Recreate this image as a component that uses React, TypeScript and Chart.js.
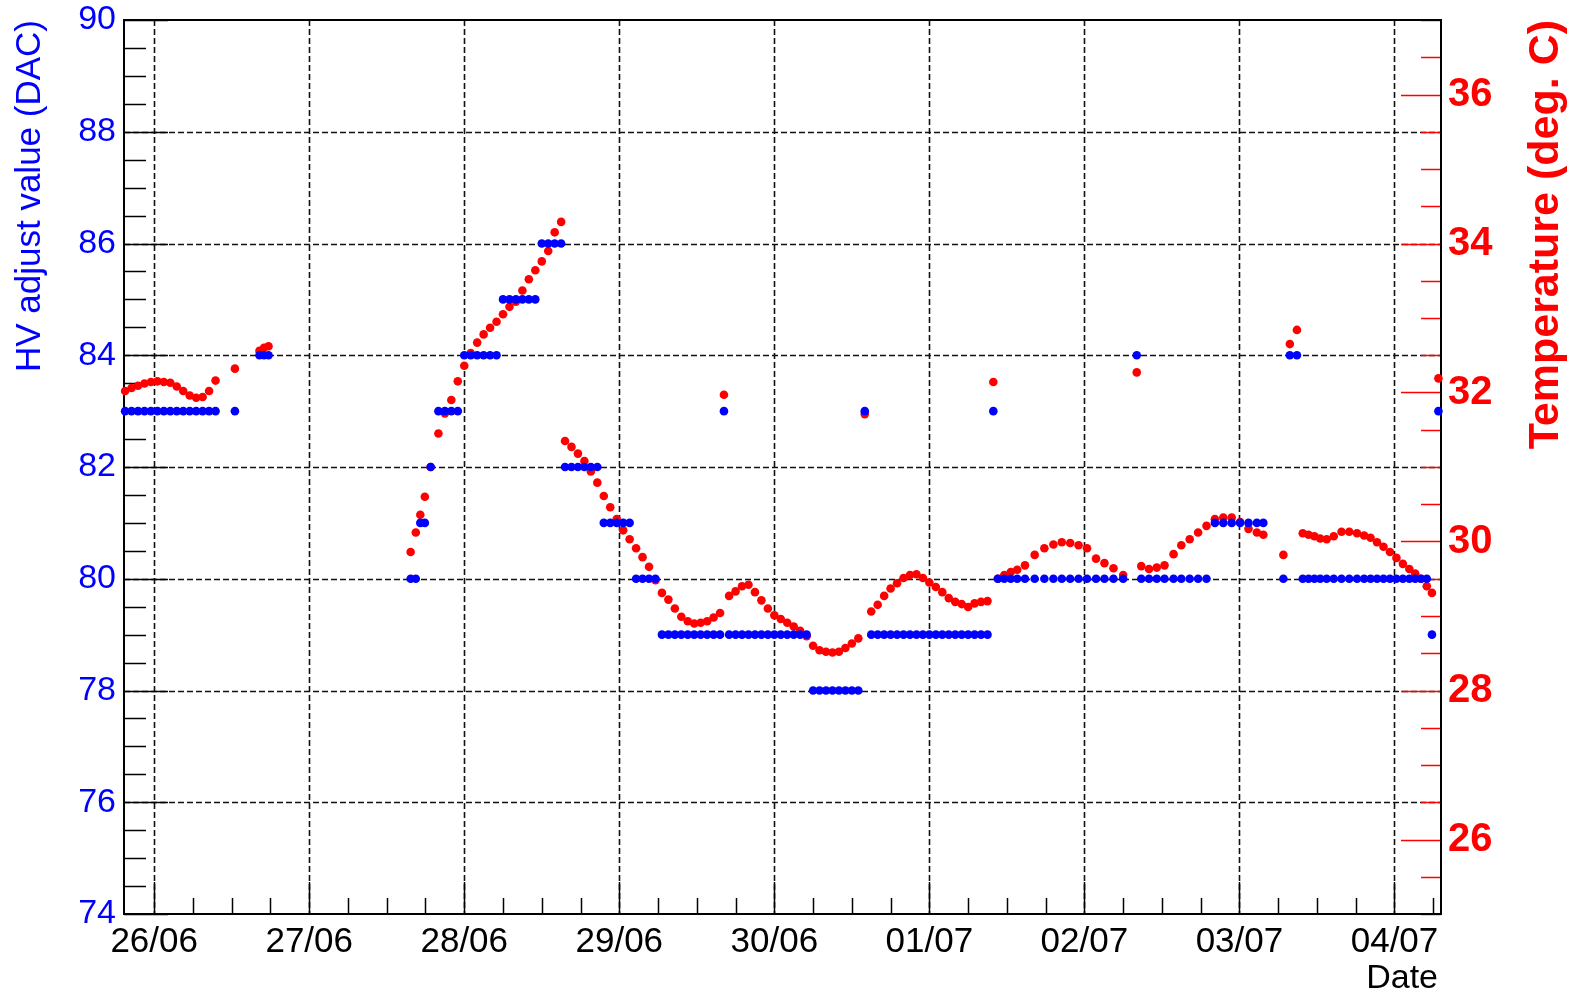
import React, { useEffect, useRef } from "react";
import { Chart, registerables } from "chart.js";

Chart.register(...registerables);

// Reading times, in hours from 26/06 00:00
const READ_HOURS = [
  -4.5, -3.5, -2.5, -1.5, -0.5, 0.5, 1.5, 2.5, 3.5, 4.5, 5.5, 6.5, 7.5, 8.5, 9.5,
  12.5, 16.3, 17.0, 17.7,
  39.7, 40.5, 41.2, 41.9, 42.8, 44, 45, 46, 47, 48, 49, 50, 51, 52, 53, 54, 55, 56, 57, 58, 59, 60, 61, 62, 63,
  63.6, 64.6, 65.6, 66.6, 67.6, 68.6, 69.6, 70.6, 71.6, 72.6, 73.6, 74.6, 75.6, 76.6, 77.6, 78.6, 79.6, 80.6, 81.6, 82.6, 83.6, 84.6, 85.6, 86.6, 87.6,
  88.2,
  89, 90, 91, 92, 93, 94, 95, 96, 97, 98, 99, 100, 101, 102, 103, 104, 105, 106, 107, 108, 109, 110,
  111, 112, 113, 114, 115, 116, 117, 118, 119, 120, 121, 122, 123, 124, 125, 126, 127, 128, 129,
  129.9,
  130.6, 131.6, 132.6, 133.6, 134.8, 136.3, 137.8, 139.2, 140.5, 141.8, 143.1, 144.4, 145.8, 147.1, 148.5, 150.0,
  152.1,
  152.8, 154.0, 155.2, 156.4, 157.8, 159.0, 160.3, 161.6, 162.9, 164.2, 165.5, 166.8, 168.1, 169.4, 170.7, 171.7,
  174.8, 175.8, 176.9,
  177.8, 178.7, 179.6, 180.5, 181.5, 182.6, 183.8, 185.0, 186.2, 187.3, 188.3, 189.3, 190.3, 191.3, 192.3, 193.3, 194.3, 195.2, 196.1, 197.0, 197.8,
  198.8,
];

// HV adjust value (DAC) at each reading
const HV_DAC = [
  83, 83, 83, 83, 83, 83, 83, 83, 83, 83, 83, 83, 83, 83, 83,
  83, 84, 84, 84,
  80, 80, 81, 81, 82, 83, 83, 83, 83, 84, 84, 84, 84, 84, 84, 85, 85, 85, 85, 85, 85, 86, 86, 86, 86,
  82, 82, 82, 82, 82, 82, 81, 81, 81, 81, 81, 80, 80, 80, 80, 79, 79, 79, 79, 79, 79, 79, 79, 79, 79,
  83,
  79, 79, 79, 79, 79, 79, 79, 79, 79, 79, 79, 79, 79, 78, 78, 78, 78, 78, 78, 78, 78, 83,
  79, 79, 79, 79, 79, 79, 79, 79, 79, 79, 79, 79, 79, 79, 79, 79, 79, 79, 79,
  83,
  80, 80, 80, 80, 80, 80, 80, 80, 80, 80, 80, 80, 80, 80, 80, 80,
  84,
  80, 80, 80, 80, 80, 80, 80, 80, 80, 81, 81, 81, 81, 81, 81, 81,
  80, 84, 84,
  80, 80, 80, 80, 80, 80, 80, 80, 80, 80, 80, 80, 80, 80, 80, 80, 80, 80, 80, 80, 79,
  83,
];

// Temperature (deg. C) at each reading
const TEMP_C = [
  32.02, 32.06, 32.09, 32.12, 32.14, 32.15, 32.14, 32.13, 32.08, 32.02, 31.96, 31.93, 31.94, 32.02, 32.16,
  32.32, 32.56, 32.6, 32.62,
  29.86, 30.12, 30.36, 30.6, 31.0, 31.45, 31.72, 31.9, 32.15, 32.36, 32.53, 32.67, 32.78, 32.87, 32.95, 33.05, 33.15, 33.22, 33.37, 33.52, 33.64, 33.76, 33.9, 34.15, 34.29,
  31.35, 31.27, 31.18, 31.08, 30.94, 30.79, 30.61, 30.46, 30.3, 30.15, 30.03, 29.91, 29.79, 29.66, 29.48, 29.31, 29.22, 29.1, 28.99, 28.93, 28.9, 28.91, 28.93, 28.98, 29.04,
  31.97,
  29.27, 29.33, 29.4, 29.42, 29.32, 29.21, 29.1, 29.01, 28.96, 28.91, 28.86, 28.8, 28.73, 28.6, 28.54, 28.52, 28.51, 28.52, 28.57, 28.63, 28.7, 31.71,
  29.06, 29.15, 29.27, 29.37, 29.44, 29.51, 29.55, 29.56, 29.51, 29.45, 29.39, 29.32, 29.24, 29.19, 29.16, 29.12, 29.17, 29.19, 29.2,
  32.14,
  29.5, 29.55, 29.59, 29.62, 29.68, 29.82, 29.91, 29.96, 29.99, 29.98, 29.95, 29.91, 29.77, 29.71, 29.64, 29.55,
  32.27,
  29.67, 29.63, 29.65, 29.68, 29.83, 29.95, 30.03, 30.12, 30.21, 30.3, 30.32, 30.32, 30.26, 30.17, 30.12, 30.09,
  29.82, 32.65, 32.84,
  30.11, 30.09, 30.07, 30.04, 30.03, 30.07, 30.13, 30.13, 30.11, 30.08, 30.05, 29.99, 29.93, 29.86, 29.78, 29.7, 29.63, 29.57, 29.5, 29.4, 29.31,
  32.19,
];

const DATE_LABELS = ["26/06", "27/06", "28/06", "29/06", "30/06", "01/07", "02/07", "03/07", "04/07"];
const DAY_TICK_HOURS = [0, 24, 48, 72, 96, 120, 144, 168, 192];
const HV_TICKS = [74, 76, 78, 80, 82, 84, 86, 88, 90];
const TEMP_TICKS = [26, 28, 30, 32, 34, 36];

const X_MIN = -4.67;
const X_MAX = 199.2;
const HV_MIN = 74;
const HV_MAX = 90;
const T_MIN = 25;
const T_MAX = 37;

const FONT = "'Liberation Sans', Arial, Helvetica, sans-serif";
const BLUE = "#0000ff";
const RED = "#ff0000";

const rootStylePlugin = {
  id: "rootStyle",
  beforeDatasetsDraw(chart: any) {
    const { ctx, chartArea: a, scales } = chart;
    const xs = scales.x;
    const ys = scales.y;
    const ys2 = scales.y2;
    const seg = (x1: number, y1: number, x2: number, y2: number) => {
      ctx.beginPath();
      ctx.moveTo(x1, y1);
      ctx.lineTo(x2, y2);
      ctx.stroke();
    };
    ctx.save();
    // grid
    ctx.strokeStyle = "#111";
    ctx.lineWidth = 1.6;
    ctx.setLineDash([6, 3]);
    for (const h of DAY_TICK_HOURS) {
      const px = Math.round(xs.getPixelForValue(h)) + 0.5;
      seg(px, a.top, px, a.bottom);
    }
    for (const v of HV_TICKS) {
      if (v <= HV_MIN || v >= HV_MAX) continue;
      const py = Math.round(ys.getPixelForValue(v)) + 0.5;
      seg(a.left, py, a.right, py);
    }
    ctx.setLineDash([]);
    // tick marks (inside the frame, ROOT style)
    ctx.lineWidth = 1.5;
    ctx.strokeStyle = "#000";
    for (let h = Math.ceil(X_MIN / 6) * 6; h <= X_MAX; h += 6) {
      const len = h % 24 === 0 ? 32 : 16;
      const px = Math.round(xs.getPixelForValue(h)) + 0.5;
      seg(px, a.bottom, px, a.bottom - len);
    }
    for (let v = HV_MIN; v <= HV_MAX + 1e-9; v += 0.5) {
      const len = v % 2 === 0 ? 44 : 22;
      const py = Math.round(ys.getPixelForValue(v)) + 0.5;
      seg(a.left, py, a.left + len, py);
    }
    ctx.strokeStyle = RED;
    for (let v = T_MIN; v <= T_MAX + 1e-9; v += 0.5) {
      const len = v % 2 === 0 ? 40 : 20;
      const py = Math.round(ys2.getPixelForValue(v)) + 0.5;
      seg(a.right, py, a.right - len, py);
    }
    // frame
    ctx.strokeStyle = "#000";
    ctx.lineWidth = 2;
    ctx.strokeRect(a.left, a.top, a.right - a.left, a.bottom - a.top);
    ctx.restore();
  },
  afterDraw(chart: any) {
    const { ctx, chartArea: a } = chart;
    ctx.save();
    ctx.fillStyle = BLUE;
    ctx.font = `35px ${FONT}`;
    ctx.textAlign = "right";
    ctx.textBaseline = "middle";
    ctx.translate(30, 20);
    ctx.rotate(-Math.PI / 2);
    ctx.fillText("HV adjust value (DAC)", 0, 0);
    ctx.restore();

    ctx.save();
    ctx.fillStyle = RED;
    ctx.font = `bold 43px ${FONT}`;
    ctx.textAlign = "right";
    ctx.textBaseline = "middle";
    ctx.translate(1546, 20);
    ctx.rotate(-Math.PI / 2);
    ctx.fillText("Temperature (deg. C)", 0, 0);
    ctx.restore();

    ctx.save();
    ctx.fillStyle = "#000";
    ctx.font = `34px ${FONT}`;
    ctx.textAlign = "right";
    ctx.textBaseline = "alphabetic";
    ctx.fillText("Date", a.right - 3, 988);
    ctx.restore();
  },
};

const noVerticalOverflow = (scale: any) => {
  scale.paddingTop = 0;
  scale.paddingBottom = 0;
};

export default function App() {
  const canvasRef = useRef<HTMLCanvasElement | null>(null);

  useEffect(() => {
    const canvas = canvasRef.current;
    if (!canvas) return;
    const hvPoints = READ_HOURS.map((h, i) => ({ x: h, y: HV_DAC[i] }));
    const tempPoints = READ_HOURS.map((h, i) => ({ x: h, y: TEMP_C[i] }));

    const chart = new Chart(canvas, {
      type: "scatter",
      data: {
        datasets: [
          {
            label: "HV adjust value (DAC)",
            data: hvPoints,
            yAxisID: "y",
            backgroundColor: BLUE,
            borderWidth: 0,
            pointRadius: 4.3,
            clip: false,
          },
          {
            label: "Temperature (deg. C)",
            data: tempPoints,
            yAxisID: "y2",
            backgroundColor: RED,
            borderWidth: 0,
            pointRadius: 4.3,
            clip: false,
          },
        ],
      },
      options: {
        responsive: false,
        devicePixelRatio: 1,
        animation: false,
        events: [],
        layout: { padding: { top: 20, left: 0, right: 0, bottom: 0 } },
        plugins: { legend: { display: false }, tooltip: { enabled: false } },
        scales: {
          x: {
            type: "linear",
            min: X_MIN,
            max: X_MAX,
            grid: { display: false, drawTicks: false, tickLength: 0 },
            border: { display: false },
            afterBuildTicks: (scale: any) => {
              scale.ticks = DAY_TICK_HOURS.map((v) => ({ value: v }));
            },
            afterFit: (scale: any) => {
              scale.height = 79;
              scale.paddingLeft = 0;
              scale.paddingRight = 0;
            },
            ticks: {
              autoSkip: false,
              maxRotation: 0,
              minRotation: 0,
              padding: 7,
              color: "#000",
              font: { family: FONT, size: 35 },
              callback: (_v: any, i: number) => DATE_LABELS[i],
            },
          },
          y: {
            type: "linear",
            position: "left",
            min: HV_MIN,
            max: HV_MAX,
            grid: { display: false, drawTicks: false, tickLength: 0 },
            border: { display: false },
            afterBuildTicks: (scale: any) => {
              scale.ticks = HV_TICKS.map((v) => ({ value: v }));
            },
            afterFit: (scale: any) => {
              scale.width = 124;
              noVerticalOverflow(scale);
            },
            ticks: {
              padding: 8,
              color: BLUE,
              font: { family: FONT, size: 34 },
              callback: (v: any) => String(v),
            },
          },
          y2: {
            type: "linear",
            position: "right",
            min: T_MIN,
            max: T_MAX,
            grid: { display: false, drawTicks: false, tickLength: 0 },
            border: { display: false },
            afterBuildTicks: (scale: any) => {
              scale.ticks = TEMP_TICKS.map((v) => ({ value: v }));
            },
            afterFit: (scale: any) => {
              scale.width = 137;
              noVerticalOverflow(scale);
            },
            ticks: {
              padding: 7,
              color: RED,
              font: { family: FONT, size: 40, weight: "bold" },
              callback: (v: any) => String(v),
            },
          },
        },
      },
      plugins: [rootStylePlugin],
    } as any);

    return () => chart.destroy();
  }, []);

  return (
    <div style={{ position: "fixed", left: 0, top: 0, width: 1578, height: 993, background: "#fff" }}>
      <canvas ref={canvasRef} width={1578} height={993} style={{ width: 1578, height: 993, display: "block" }} />
    </div>
  );
}
